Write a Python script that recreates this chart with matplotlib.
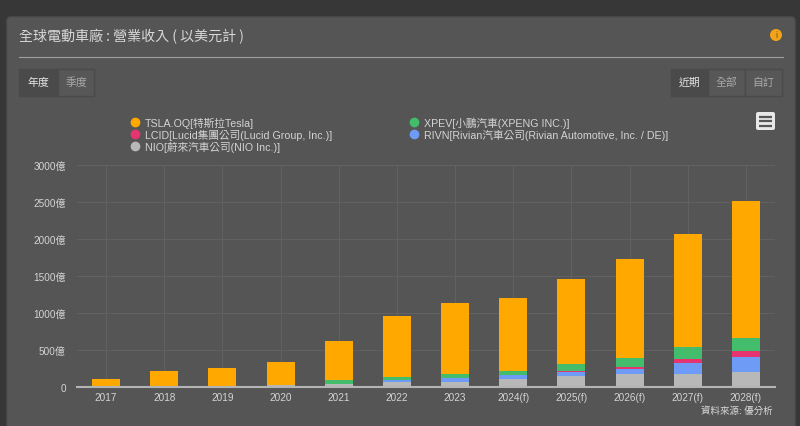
import matplotlib
matplotlib.use("Agg")
import matplotlib.pyplot as plt
from matplotlib.patches import FancyBboxPatch, Rectangle, Circle
import numpy as np

years = ["2017", "2018", "2019", "2020", "2021", "2022", "2023", "2024(f)", "2025(f)", "2026(f)", "2027(f)", "2028(f)"]
nio = [0, 7, 11, 25, 45, 72, 63, 108, 144, 172, 176, 207]
rivn = [0, 0, 0, 0, 1, 21, 55, 50, 64, 67, 144, 203]
lucid = [0, 0, 0, 0, 1, 1, 2, 3, 6, 36, 58, 72]
xpev = [0, 0, 2, 8, 43, 45, 51, 51, 92, 113, 162, 180]
tsla = [113, 213, 248, 309, 536, 816, 969, 988, 1149, 1347, 1530, 1848]
tick_vals = [0, 500, 1000, 1500, 2000, 2500, 3000]
tick_labels = ["0", "500億", "1000億", "1500億", "2000億", "2500億", "3000億"]
names = ["NIO[蔚來汽車公司(NIO Inc.)]", "RIVN[Rivian汽車公司(Rivian Automotive, Inc. / DE)]",
         "LCID[Lucid集團公司(Lucid Group, Inc.)]", "XPEV[小鵬汽車(XPENG INC.)]", "TSLA.OQ[特斯拉Tesla]"]
colors = ["#b8b8b8", "#6e9bf5", "#e5346f", "#43bd6c", "#ffa800"]

plt.rcParams['font.family'] = ['Liberation Sans', 'Noto Sans CJK TC']
W, H = 800, 427
fig = plt.figure(figsize=(8, 4.27), dpi=100, facecolor="#373737")

bg = fig.add_axes([0, 0, 1, 1])
bg.set_xlim(0, W); bg.set_ylim(H, 0); bg.axis("off")
bg.add_patch(FancyBboxPatch((7, 18), 788, 430, boxstyle="round,pad=0,rounding_size=4", fc="#555555", ec="#4e4e4e", lw=1))
bg.plot([19, 783], [57.5, 57.5], color="#a0a0a0", lw=0.8)
bg.text(19, 37, "全球電動車廠 : 營業收入 ( 以美元計 )", color="#d8d8d8", fontsize=10.1, va="center", ha="left",
        fontfamily=['Noto Sans CJK TC'], fontweight="light")
bg.add_patch(Circle((776, 36), 6, fc="#f5a316", ec="none"))
bg.text(776, 36, "i", color="#555555", fontsize=6.5, ha="center", va="center")

def button(x0, x1, label, active):
    bg.add_patch(Rectangle((x0, 70), x1 - x0, 27, fc="#4a4a4a" if active else "#575757", ec="#4a4a4a", lw=1))
    bg.text((x0 + x1) / 2, 83, label, color="#e6e6e6" if active else "#a8a8a8", fontsize=7.8, ha="center", va="center",
            fontfamily=['Noto Sans CJK TC'])
button(19, 58, "年度", True)
button(58, 94, "季度", False)
button(671, 708, "近期", True)
button(708, 745, "全部", False)
button(745, 782, "自訂", False)

bg.add_patch(FancyBboxPatch((756, 113), 19, 18, boxstyle="round,pad=0,rounding_size=2", fc="#e8e8e8", ec="none"))
for y in (117.5, 122, 126.5):
    bg.plot([759, 772], [y, y], color="#555555", lw=1.6, solid_capstyle="butt")
bg.text(773, 411, "資料來源: 優分析", color="#d8d8d8", fontsize=6.8, ha="right", va="center")

ax = fig.add_axes([77 / W, 1 - 388 / H, 698 / W, 222 / H])
ax.patch.set_alpha(0)
x = np.arange(len(years))
bottom = np.zeros(len(years))
series = [nio, rivn, lucid, xpev, tsla]
for vals, c in zip(series, colors):
    ax.bar(x, vals, width=0.482, bottom=bottom, color=c, zorder=3, lw=0)
    bottom = bottom + np.array(vals)
ax.set_xlim(-0.5, 11.5)
ax.set_ylim(0, 3000)
ax.set_xticks(x, years)
ax.set_yticks(tick_vals, tick_labels)
ax.grid(True, color="#616161", lw=0.8, zorder=0)
for s in ("top", "left", "right"):
    ax.spines[s].set_visible(False)
ax.spines["bottom"].set_color("#b4b4b4")
ax.spines["bottom"].set_linewidth(1.5)
ax.spines["bottom"].set_zorder(5)
ax.tick_params(length=0, colors="#d4d4d4", labelsize=7.2)
ax.tick_params(axis="x", pad=3.5)
ax.tick_params(axis="y", pad=8)

# legend: column-wise order as in the reference
order = [4, 2, 0, 3, 1]
handles = [plt.Line2D([], [], ls="", marker="o", ms=7, color=colors[i], mew=0) for i in order]
leg = fig.legend(handles, [names[i] for i in order], ncols=2, loc="upper left",
                 bbox_to_anchor=(128.5 / W, 1 - 117 / H), frameon=False, fontsize=7.7,
                 labelcolor="#d4d4d4", labelspacing=0.1, columnspacing=7.1,
                 handletextpad=0.3, handlelength=1.2, borderpad=0, borderaxespad=0)
fig.savefig("out.png", dpi=100, facecolor=fig.get_facecolor())
